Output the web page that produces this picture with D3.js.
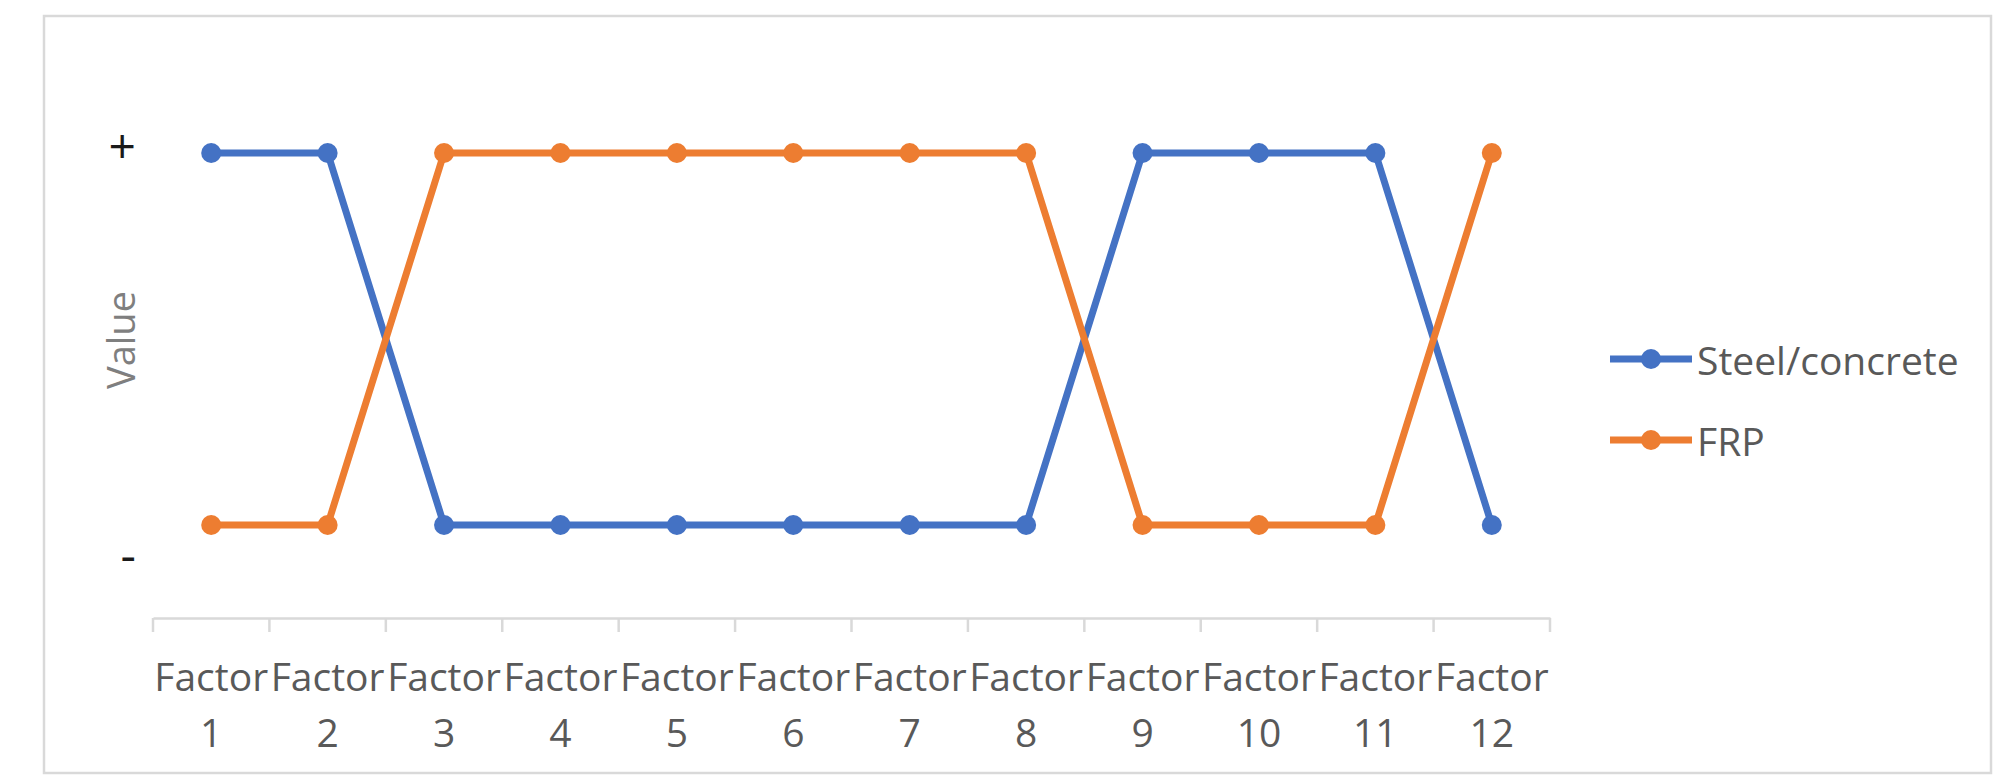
<!DOCTYPE html>
<html>
<head>
<meta charset="utf-8">
<script src="https://cdn.jsdelivr.net/npm/d3@7"></script>
<style>
  html, body { margin: 0; padding: 0; background: #ffffff; }
  svg { display: block; }
  text { font-family: "Open Sans", "Noto Sans", "DejaVu Sans", sans-serif; }
</style>
</head>
<body>
<svg id="chart" width="2003" height="776"></svg>
<script>
// Categories along the horizontal axis
const factors = ["1", "2", "3", "4", "5", "6", "7", "8", "9", "10", "11", "12"];

// Qualitative level of each factor per material: "+" or "-"
const steelConcrete = ["+", "+", "-", "-", "-", "-", "-", "-", "+", "+", "+", "-"];
const frp           = ["-", "-", "+", "+", "+", "+", "+", "+", "-", "-", "-", "+"];

// Numeric level used to place each qualitative value
const levelValue = { "+": 1, "-": -1 };

// Value-axis tick positions and their labels
const valueTicks = [1.03, -1.17];
const valueTickLabels = ["+", "-"];

const seriesNames = ["Steel/concrete", "FRP"];
const seriesColors = ["#4472c4", "#ed7d31"];

const svg = d3.select("#chart");

// Chart area frame
svg.append("rect")
  .attr("x", 44).attr("y", 16)
  .attr("width", 1947).attr("height", 757)
  .attr("fill", "#ffffff")
  .attr("stroke", "#d9d9d9")
  .attr("stroke-width", 2.5);

const x = d3.scaleBand().domain(factors).range([153, 1550]);
const y = d3.scaleLinear().domain([-1.5, 1.5]).range([618, 60]);

// Category axis
const xAxis = d3.axisBottom(x).tickSize(0).tickFormat("");
const gx = svg.append("g").attr("transform", `translate(0,${y(-1.5)})`).call(xAxis);
gx.select(".domain").attr("stroke", "#d9d9d9").attr("stroke-width", 2.5);

// Tick marks on category boundaries
const boundaries = factors.map(f => x(f)).concat([x.range()[1]]);
svg.append("g").selectAll("line")
  .data(boundaries)
  .join("line")
  .attr("x1", d => d).attr("x2", d => d)
  .attr("y1", y(-1.5)).attr("y2", y(-1.5) + 14)
  .attr("stroke", "#d9d9d9")
  .attr("stroke-width", 2.5);

// Two-line category labels
const labels = svg.append("g").selectAll("text")
  .data(factors)
  .join("text")
  .attr("text-anchor", "middle")
  .attr("fill", "#595959")
  .attr("font-size", 39);
labels.append("tspan")
  .attr("x", d => x(d) + x.bandwidth() / 2)
  .attr("y", 691)
  .text("Factor");
labels.append("tspan")
  .attr("x", d => x(d) + x.bandwidth() / 2)
  .attr("y", 747)
  .text(d => d);

// Value axis labels
const yAxis = d3.axisLeft(y)
  .tickValues(valueTicks)
  .tickSize(0)
  .tickPadding(0)
  .tickFormat((d, i) => valueTickLabels[i]);
const gy = svg.append("g").attr("transform", "translate(136,0)").call(yAxis);
gy.select(".domain").remove();
gy.selectAll("text")
  .attr("fill", "#1a1a1a")
  .attr("font-size", 48)
  .attr("font-family", "\"Open Sans\", sans-serif");

// Value axis title
svg.append("text")
  .attr("transform", "translate(120,340) rotate(-90)")
  .attr("text-anchor", "middle")
  .attr("dominant-baseline", "central")
  .attr("fill", "#7f7f7f")
  .attr("font-size", 38)
  .text("Value");

// Series lines and markers
const series = [steelConcrete, frp];
const line = d3.line()
  .x((d, i) => x(factors[i]) + x.bandwidth() / 2)
  .y(d => y(levelValue[d]));

series.forEach((vals, s) => {
  svg.append("path")
    .datum(vals)
    .attr("d", line)
    .attr("fill", "none")
    .attr("stroke", seriesColors[s])
    .attr("stroke-width", 7)
    .attr("stroke-linejoin", "round");
  svg.append("g").selectAll("circle")
    .data(vals)
    .join("circle")
    .attr("cx", (d, i) => x(factors[i]) + x.bandwidth() / 2)
    .attr("cy", d => y(levelValue[d]))
    .attr("r", 10)
    .attr("fill", seriesColors[s]);
});

// Legend
const legendY = d3.scalePoint().domain(seriesNames).range([359, 440]);
const legend = svg.append("g").selectAll("g")
  .data(seriesNames)
  .join("g")
  .attr("transform", d => `translate(0,${legendY(d)})`);
legend.append("line")
  .attr("x1", 1610).attr("x2", 1692)
  .attr("y1", 0).attr("y2", 0)
  .attr("stroke", (d, i) => seriesColors[i])
  .attr("stroke-width", 7);
legend.append("circle")
  .attr("cx", 1651).attr("cy", 0).attr("r", 10)
  .attr("fill", (d, i) => seriesColors[i]);
legend.append("text")
  .attr("x", 1697)
  .attr("y", 0)
  .attr("dominant-baseline", "central")
  .attr("fill", "#595959")
  .attr("font-size", 39)
  .text(d => d);
</script>
</body>
</html>
